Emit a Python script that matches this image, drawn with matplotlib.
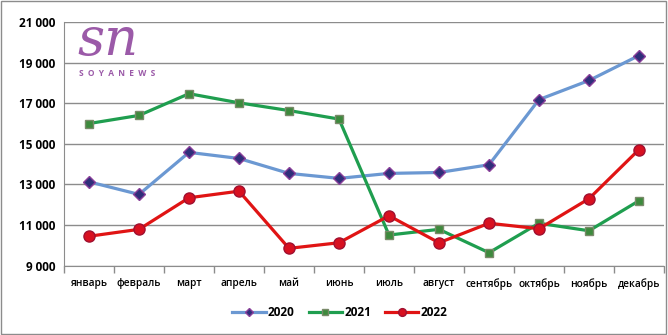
import numpy as np
import matplotlib.pyplot as plt
from matplotlib.patches import Rectangle

plt.rcParams['font.family'] = ['Open Sans', 'DejaVu Sans']

months = ['январь', 'февраль', 'март', 'апрель', 'май', 'июнь',
          'июль', 'август', 'сентябрь', 'октябрь', 'ноябрь', 'декабрь']
y2020 = [13130, 12510, 14580, 14280, 13545, 13300, 13545, 13590, 13970, 17180, 18120, 19350]
y2021 = [16000, 16400, 17470, 17020, 16640, 16220, 10510, 10790, 9640, 11090, 10720, 12200]
y2022 = [10450, 10790, 12345, 12670, 9855, 10130, 11460, 10130, 11090, 10820, 12300, 14720]
yticks = [9000, 11000, 13000, 15000, 17000, 19000, 21000]

fig = plt.figure(figsize=(6.68, 3.35), dpi=100)
ax = fig.add_axes([64 / 668, 1 - 265.7 / 335, 600 / 668, 243.7 / 335])

x = np.arange(len(months))
ax.plot(x, y2020, color='#6b98d2', lw=2.3, marker='D', ms=6,
        mfc='#2f2f7a', mec='#8a3f9a', mew=1, label='2020', zorder=3)
ax.plot(x, y2021, color='#1f9e4f', lw=2.3, marker='s', ms=6,
        mfc='#3d8a3d', mec='#7a8a6a', mew=1, label='2021', zorder=3)
ax.plot(x, y2022, color='#e01414', lw=2.3, marker='o', ms=8,
        mfc='#d81020', mec='#a01030', mew=1, label='2022', zorder=4)

ax.set_xlim(-0.5, len(months) - 0.5)
ax.set_ylim(9000, 21000)
ax.set_yticks(yticks)
ax.set_yticklabels([f'{v:,}'.replace(',', ' ') for v in yticks],
                   fontsize=8.5, fontweight='bold')
ax.set_xticks(x)
ax.set_xticklabels(months, fontsize=7.3, fontweight='semibold')
ax.set_xticks(np.arange(-0.5, len(months)), minor=True)
ax.tick_params(axis='x', which='major', length=0, pad=9)
ax.tick_params(axis='x', which='minor', length=5, color='#8c8c8c', width=1)
ax.tick_params(axis='y', length=0, pad=6)

ax.grid(axis='y', color='#8c8c8c', lw=1)
ax.set_axisbelow(True)
for s in ['top', 'right']:
    ax.spines[s].set_visible(False)
ax.spines['left'].set_color('#8c8c8c')
ax.spines['bottom'].set_color('#8c8c8c')

# logo
fig.text(77 / 668, 1 - 55 / 335, 'sn', fontsize=38, style='italic',
         color='#9b5aa8', family='DejaVu Serif', va='baseline')
fig.text(79 / 668, 1 - 76 / 335, 'S  O  Y  A  N  E  W  S', fontsize=6,
         fontweight='bold', color='#9b5aa8', va='baseline')

ax.legend(loc='center', bbox_to_anchor=(340 / 668, 1 - 313 / 335),
          bbox_transform=fig.transFigure, ncol=3, frameon=False,
          prop={'size': 8.5, 'weight': 'bold'}, handlelength=2.8,
          handletextpad=0.2, columnspacing=1.2, markerscale=0.7)

fig.patches.append(Rectangle((0.002, 0.003), 0.995, 0.993, transform=fig.transFigure,
                             fill=False, ec='#8c8c8c', lw=1))

fig.savefig('out.png', dpi=100)
